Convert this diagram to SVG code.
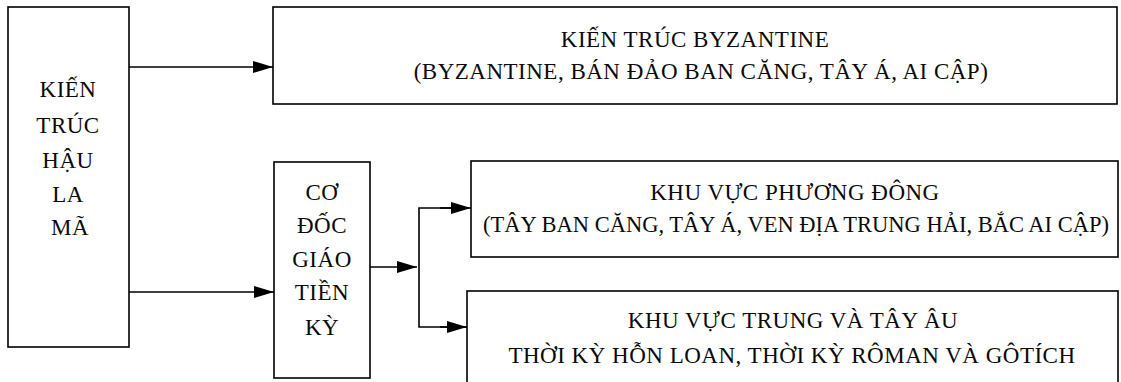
<svg xmlns="http://www.w3.org/2000/svg" width="1121" height="382" viewBox="0 0 1121 382">
<style>
.box{fill:#fff;stroke:#000;stroke-width:1.6}
.t{font-family:"Liberation Serif","Times New Roman",serif;font-size:23px;letter-spacing:0.5px;fill:#0a0a0a;text-anchor:middle}
.n{font-size:22.5px;letter-spacing:0}
.c{stroke:#000;stroke-width:1.6;fill:none}
</style>
<defs>
<marker id="ah" markerWidth="20" markerHeight="12" refX="20" refY="6" orient="auto" markerUnits="userSpaceOnUse">
<path d="M0,0 L20,6 L0,12 Z" fill="#000"/>
</marker>
</defs>
<rect width="1121" height="382" fill="#fff"/>
<g id="n-hau-la-ma">
<rect class="box" x="8" y="7" width="121" height="340"/>
<text class="t" x="68" y="97">KIẾN</text>
<text class="t" x="68" y="133">TRÚC</text>
<text class="t" x="68" y="168">HẬU</text>
<text class="t" x="68" y="202">LA</text>
<text class="t" x="70" y="235">MÃ</text>
</g>
<g id="n-byzantine">
<rect class="box" x="273" y="7" width="844" height="97"/>
<text class="t" x="695" y="47">KIẾN TRÚC BYZANTINE</text>
<text class="t" x="701" y="79">(BYZANTINE, BÁN ĐẢO BAN CĂNG, TÂY Á, AI CẬP)</text>
</g>
<g id="n-co-doc">
<rect class="box" x="274" y="162" width="96" height="216"/>
<text class="t" x="322" y="200">CƠ</text>
<text class="t" x="322" y="233">ĐỐC</text>
<text class="t" x="322" y="267">GIÁO</text>
<text class="t" x="322" y="300">TIỀN</text>
<text class="t" x="322" y="335">KỲ</text>
</g>
<g id="n-phuong-dong">
<rect class="box" x="471" y="161" width="647" height="96"/>
<text class="t" x="795" y="200">KHU VỰC PHƯƠNG ĐÔNG</text>
<text class="t n" x="796" y="232">(TÂY BAN CĂNG, TÂY Á, VEN ĐỊA TRUNG HẢI, BẮC AI CẬP)</text>
</g>
<g id="n-trung-tay-au">
<rect class="box" x="467" y="291" width="651" height="100"/>
<text class="t" x="793" y="328">KHU VỰC TRUNG VÀ TÂY ÂU</text>
<text class="t" x="792" y="363">THỜI KỲ HỖN LOAN, THỜI KỲ RÔMAN VÀ GÔTÍCH</text>
</g>
<g id="connectors">
<line class="c" x1="129" y1="67" x2="273" y2="67" marker-end="url(#ah)"/>
<line class="c" x1="129" y1="292" x2="274" y2="292" marker-end="url(#ah)"/>
<line class="c" x1="370" y1="267" x2="417" y2="267" marker-end="url(#ah)"/>
<polyline class="c" points="467,208 419,208 419,327 467,327"/>
<line class="c" x1="440" y1="208" x2="471" y2="208" marker-end="url(#ah)"/>
<line class="c" x1="440" y1="327" x2="467" y2="327" marker-end="url(#ah)"/>
</g>
</svg>
